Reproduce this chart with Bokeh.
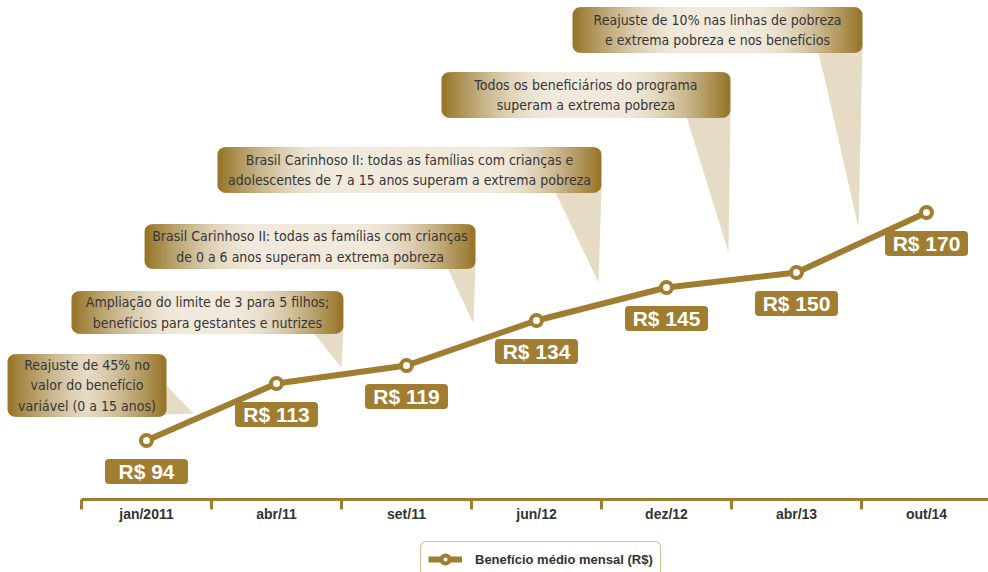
import math
from bokeh.plotting import figure
from bokeh.models import (Range1d, LinearAxis, FixedTicker, CustomJSTickFormatter,
                          Legend, LegendItem, ColumnDataSource)
from bokeh.core.properties import value
from bokeh.embed import file_html
from bokeh.resources import INLINE

# ---------------- data ----------------
categories = ["jan/2011", "abr/11", "set/11", "jun/12", "dez/12", "abr/13", "out/14"]
beneficio = [94, 113, 119, 134, 145, 150, 170]
series_name = "Benefício médio mensal (R$)"

events = [
    "Reajuste de 45% no\nvalor do benefício\nvariável (0 a 15 anos)",
    "Ampliação do limite de 3 para 5 filhos;\nbenefícios para gestantes e nutrizes",
    "Brasil Carinhoso II: todas as famílias com crianças\nde 0 a 6 anos superam a extrema pobreza",
    "Brasil Carinhoso II: todas as famílias com crianças e\nadolescentes de 7 a 15 anos superam a extrema pobreza",
    "Todos os beneficiários do programa\nsuperam a extrema pobreza",
    "Reajuste de 10% nas linhas de pobreza\ne extrema pobreza e nos benefícios",
]

# ---------------- layout / style ----------------
GOLD = "#a07d30"
DARK = (152, 118, 42)
LIGHT = (241, 234, 220)
TAIL = "#e6dcc5"
TEXT_DARK = "#363636"
PX_X = 130.0   # px per category
PX_Y = 3.0     # px per R$
NARROW = "DejaVu Sans Condensed"

# callout boxes: left, right (category units), top, bottom (R$ units)
boxes = [
    (-0.569, 0.654, 122.7, 102.0),
    (-0.077, 2.015, 143.7, 129.7),
    (0.485, 3.031, 166.0, 151.3),
    (1.046, 4.000, 191.7, 176.7),
    (2.769, 4.992, 216.7, 201.7),
    (3.777, 6.008, 238.3, 223.3),
]
tail_xs = [[0.55, 0.862, 0.55], [1.762, 2.015, 2.0], [2.80, 3.031, 3.015],
           [3.631, 4.0, 3.977], [4.646, 4.992, 4.977], [5.662, 6.008, 5.977]]
tail_ys = [[117.0, 103.0, 102.5], [131.0, 131.0, 118.3], [153.0, 153.0, 133.0],
           [178.0, 178.0, 146.7], [203.0, 203.0, 156.7], [225.0, 225.0, 165.0]]

AXIS_Y = 74.33
LABEL_OFFSET_PX = 31

x_centers = [i + 0.5 for i in range(len(categories))]
label_y = [v - LABEL_OFFSET_PX / PX_Y for v in beneficio]
label_txt = ["R$ %d" % v for v in beneficio]

src = ColumnDataSource(dict(x=x_centers, y=beneficio, ly=label_y, lt=label_txt))

p = figure(width=988, height=572, x_range=Range1d(-0.62308, 6.97692),
           y_range=Range1d(50.0, 240.667), output_backend="svg",
           toolbar_location=None, x_axis_type=None, y_axis_type=None, min_border=0)
p.outline_line_color = None
p.background_fill_color = "white"
p.border_fill_color = "white"

# tails
p.patches(tail_xs, tail_ys, fill_color=TAIL, line_color=None)


def mix(t):
    c = [int(round(DARK[k] + (LIGHT[k] - DARK[k]) * t)) for k in range(3)]
    return "#%02x%02x%02x" % tuple(c)


# callout boxes with horizontal gradient
outer = dict(left=[], right=[], top=[], bottom=[])
inner = dict(left=[], right=[], top=[], bottom=[], color=[])
for (l, r, t, b) in boxes:
    outer["left"].append(l); outer["right"].append(r)
    outer["top"].append(t); outer["bottom"].append(b)
    w_px = (r - l) * PX_X
    d = 5.0
    while 2 * d < w_px - 4:
        s = math.sin(min(d / 115.0, 1.0) * math.pi / 2)
        inner["left"].append(l + d / PX_X)
        inner["right"].append(r - d / PX_X)
        inner["top"].append(t)
        inner["bottom"].append(b)
        inner["color"].append(mix(s))
        d += 3.0
ro = p.quad(source=ColumnDataSource(outer), left="left", right="right", top="top",
            bottom="bottom", fill_color=mix(0.0), line_color=None)
try:
    ro.glyph.border_radius = 7
except Exception:
    pass
p.quad(source=ColumnDataSource(inner), left="left", right="right", top="top",
       bottom="bottom", fill_color="color", line_color=None)

p.text(x=[(l + r) / 2 for (l, r, t, b) in boxes], y=[(t + b) / 2 for (l, r, t, b) in boxes],
       text=events, text_font=value(NARROW), text_font_size="14px", text_color=TEXT_DARK,
       text_align="center", text_baseline="middle", text_line_height=1.3)

# series
line_r = p.line("x", "y", source=src, line_width=6, line_color=GOLD, line_join="round")
pts_r = p.scatter("x", "y", source=src, size=11, fill_color="white", line_color=GOLD,
                  line_width=4)

rr = p.rect("x", "ly", source=src, width=83, height=25, width_units="screen",
            height_units="screen", fill_color=GOLD, line_color=None)
try:
    rr.glyph.border_radius = 4
except Exception:
    pass
p.text("x", "ly", text="lt", source=src, text_font=value("Liberation Sans"),
       text_font_style="bold", text_font_size="21px", text_color="white",
       text_align="center", text_baseline="middle")

# axis
xaxis = LinearAxis(
    fixed_location=AXIS_Y,
    ticker=FixedTicker(ticks=x_centers, minor_ticks=list(range(len(categories) + 1))),
    formatter=CustomJSTickFormatter(args=dict(labels=categories),
                                    code="return labels[Math.floor(tick)] || '';"),
    bounds=(0, len(categories)),
    axis_line_color=GOLD, axis_line_width=3,
    major_tick_line_color=None, major_tick_in=0, major_tick_out=0,
    minor_tick_line_color=GOLD, minor_tick_line_width=3, minor_tick_in=0, minor_tick_out=10,
    major_label_text_font="Liberation Sans", major_label_text_font_style="bold",
    major_label_text_font_size="14px", major_label_text_color="#333333",
    major_label_standoff=-4)
p.add_layout(xaxis, "below")

legend = Legend(items=[LegendItem(label=series_name, renderers=[line_r, pts_r])],
                location=(420, -5), orientation="horizontal",
                border_line_color=GOLD, border_line_width=1.5,
                background_fill_color="white", background_fill_alpha=1.0,
                label_text_font="Liberation Sans", label_text_font_style="bold",
                label_text_font_size="13px", label_text_color="#333333",
                glyph_width=34, glyph_height=20, label_height=20, padding=7,
                margin=0, spacing=0, label_standoff=13)
try:
    legend.border_radius = 6
except Exception:
    pass
p.add_layout(legend)

open("out.html", "w").write(file_html(p, INLINE))
